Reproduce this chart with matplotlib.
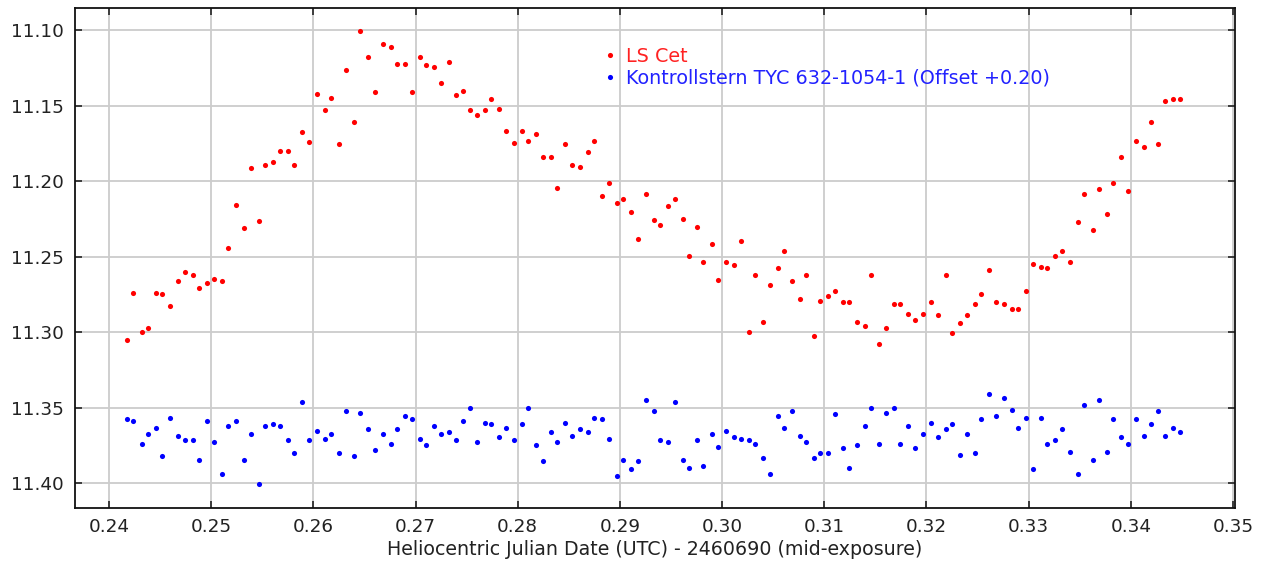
import matplotlib
matplotlib.use("Agg")
import matplotlib.pyplot as plt

# Heliocentric Julian Date (UTC) - 2460690
hjd = [
    0.24175, 0.24237, 0.24318, 0.24380, 0.24458, 0.24520, 0.24599, 0.24677, 0.24742, 0.24821,
    0.24883, 0.24961, 0.25026, 0.25104, 0.25166, 0.25245, 0.25323, 0.25388, 0.25467, 0.25529,
    0.25607, 0.25669, 0.25750, 0.25812, 0.25891, 0.25953, 0.26031, 0.26109, 0.26175, 0.26250,
    0.26315, 0.26393, 0.26455, 0.26533, 0.26599, 0.26677, 0.26755, 0.26817, 0.26896, 0.26961,
    0.27039, 0.27101, 0.27180, 0.27245, 0.27323, 0.27398, 0.27463, 0.27533,
    0.27602, 0.27680, 0.27742, 0.27821, 0.27886, 0.27964, 0.28042, 0.28104, 0.28183, 0.28248,
    0.28326, 0.28388, 0.28467, 0.28532, 0.28610, 0.28688, 0.28750, 0.28829, 0.28894, 0.28972,
    0.29034, 0.29109, 0.29178, 0.29253, 0.29331, 0.29393, 0.29475, 0.29537, 0.29615, 0.29677,
    0.29755, 0.29817, 0.29899, 0.29961, 0.30039, 0.30117, 0.30183, 0.30261, 0.30323, 0.30401,
    0.30466, 0.30545, 0.30607, 0.30682, 0.30760, 0.30825, 0.30904,
    0.30957, 0.31036, 0.31101, 0.31180, 0.31242, 0.31321, 0.31399, 0.31461, 0.31540, 0.31605,
    0.31684, 0.31746, 0.31824, 0.31890, 0.31968, 0.32047, 0.32109, 0.32187, 0.32253, 0.32331,
    0.32394, 0.32472, 0.32537, 0.32616, 0.32678, 0.32757, 0.32835, 0.32897, 0.32976, 0.33041,
    0.33120, 0.33182, 0.33260, 0.33326, 0.33404, 0.33480, 0.33545, 0.33627, 0.33689, 0.33767,
    0.33830, 0.33908, 0.33974, 0.34052, 0.34130, 0.34193, 0.34271, 0.34337, 0.34412, 0.34477,
]

ls_cet = [
    11.305, 11.274, 11.300, 11.297, 11.274, 11.275, 11.283, 11.266, 11.260, 11.262,
    11.2705, 11.2674, 11.265, 11.266, 11.244, 11.216, 11.231, 11.1915, 11.226, 11.189,
    11.187, 11.180, 11.180, 11.189, 11.167, 11.174, 11.142, 11.153, 11.1445, 11.1755,
    11.126, 11.1605, 11.1004, 11.1175, 11.141, 11.109, 11.111, 11.122, 11.122, 11.141,
    11.1175, 11.123, 11.124, 11.135, 11.121, 11.143, 11.140, 11.153,
    11.1563, 11.153, 11.1454, 11.1518, 11.1669, 11.1744, 11.1669, 11.1733, 11.1689, 11.1839,
    11.1839, 11.2043, 11.1755, 11.1893, 11.1904, 11.1808, 11.1733, 11.2096, 11.2012, 11.2141,
    11.2118, 11.2205, 11.2384, 11.2085, 11.2258, 11.2289, 11.2161, 11.2118, 11.2247, 11.2493,
    11.2300, 11.2535, 11.2417, 11.2652, 11.2535, 11.2557, 11.2395, 11.2996, 11.2621, 11.2931,
    11.2685, 11.2577, 11.2460, 11.2663, 11.2781, 11.2621, 11.3027,
    11.2792, 11.2759, 11.2728, 11.2803, 11.2803, 11.2931, 11.2962, 11.2621, 11.3080, 11.2973,
    11.2814, 11.2814, 11.2878, 11.2920, 11.2878, 11.2803, 11.2889, 11.2621, 11.3007, 11.2942,
    11.2889, 11.2814, 11.2750, 11.2588, 11.2803, 11.2814, 11.2845, 11.2845, 11.2728, 11.2546,
    11.2566, 11.2577, 11.2493, 11.2460, 11.2535, 11.2267, 11.2085, 11.2320, 11.2054, 11.2214,
    11.2010, 11.1839, 11.2065, 11.1733, 11.1775, 11.1605, 11.1755, 11.1465, 11.1454, 11.1454,
]

check_star = [
    11.3577, 11.3588, 11.3739, 11.3675, 11.3633, 11.3823, 11.3566, 11.3686, 11.3717, 11.3717,
    11.3845, 11.3588, 11.3728, 11.3940, 11.3622, 11.3588, 11.3845, 11.3675, 11.4004, 11.3622,
    11.3611, 11.3622, 11.3717, 11.3803, 11.3460, 11.3717, 11.3653, 11.3706, 11.3675, 11.3803,
    11.3524, 11.3823, 11.3535, 11.3642, 11.3781, 11.3675, 11.3739, 11.3642, 11.3558, 11.3577,
    11.3706, 11.3750, 11.3622, 11.3675, 11.3664, 11.3717, 11.3588, 11.3504,
    11.3728, 11.3600, 11.3611, 11.3697, 11.3633, 11.3717, 11.3611, 11.3504, 11.3750, 11.3856,
    11.3664, 11.3728, 11.3600, 11.3686, 11.3642, 11.3664, 11.3566, 11.3577, 11.3706, 11.3951,
    11.3845, 11.3909, 11.3856, 11.3451, 11.3524, 11.3717, 11.3728, 11.3460, 11.3845, 11.3898,
    11.3717, 11.3887, 11.3675, 11.3761, 11.3653, 11.3697, 11.3706, 11.3717, 11.3739, 11.3834,
    11.3940, 11.3558, 11.3633, 11.3524, 11.3686, 11.3728, 11.3834,
    11.3803, 11.3803, 11.3546, 11.3770, 11.3898, 11.3750, 11.3622, 11.3504, 11.3739, 11.3535,
    11.3504, 11.3739, 11.3622, 11.3770, 11.3675, 11.3600, 11.3697, 11.3642, 11.3611, 11.3814,
    11.3675, 11.3803, 11.3577, 11.3407, 11.3558, 11.3438, 11.3515, 11.3633, 11.3566, 11.3909,
    11.3566, 11.3739, 11.3717, 11.3642, 11.3792, 11.3940, 11.3482, 11.3845, 11.3449, 11.3792,
    11.3577, 11.3697, 11.3739, 11.3577, 11.3686, 11.3611, 11.3524, 11.3686, 11.3633, 11.3664,
]

series_labels = ["LS Cet", "Kontrollstern TYC 632-1054-1 (Offset +0.20)"]
x_ticks = [0.24, 0.25, 0.26, 0.27, 0.28, 0.29, 0.30, 0.31, 0.32, 0.33, 0.34, 0.35]
y_ticks = [11.10, 11.15, 11.20, 11.25, 11.30, 11.35, 11.40]
x_label = "Heliocentric Julian Date (UTC) - 2460690 (mid-exposure)"

plt.rcParams['font.family'] = ['DejaVu Sans']
fig = plt.figure(figsize=(12.66, 5.64), dpi=100)
ax = fig.add_axes([75 / 1266, 56 / 564, 1160 / 1266, 500 / 564])

ax.plot(hjd, ls_cet, 'o', color='#ff0000', ms=3.7, mew=0, label=series_labels[0], zorder=3)
ax.plot(hjd, check_star, 'o', color='#0000ff', ms=3.7, mew=0, label=series_labels[1], zorder=3)

ax.set_xlim(0.23667, 0.3502)
ax.set_ylim(11.4166, 11.0851)
ax.set_xticks(x_ticks)
ax.set_xticklabels([f"{t:.2f}" for t in x_ticks])
ax.set_yticks(y_ticks)
ax.set_yticklabels([f"{t:.2f}" for t in y_ticks])
ax.grid(True, color='#cccccc', linewidth=1.3, zorder=0)
ax.set_axisbelow(True)
ax.tick_params(direction='in', length=5, width=1.2, top=True, right=True,
               labelsize=13.2, colors='#222222', pad=7)
ax.tick_params(axis='y', pad=8)
for sp in ax.spines.values():
    sp.set_linewidth(1.3)
    sp.set_color('#111111')
ax.set_xlabel(x_label, fontsize=13.7, color='#222222', labelpad=3)

leg = ax.legend(loc='upper left', bbox_to_anchor=(0.456, 0.922), frameon=False,
                handlelength=0.6, handletextpad=0.55, labelspacing=0.12,
                fontsize=13.8, markerscale=1.0, borderaxespad=0, borderpad=0)
for txt, col in zip(leg.get_texts(), ['#ff2222', '#2222ff']):
    txt.set_color(col)

fig.savefig("out.png", dpi=100)
